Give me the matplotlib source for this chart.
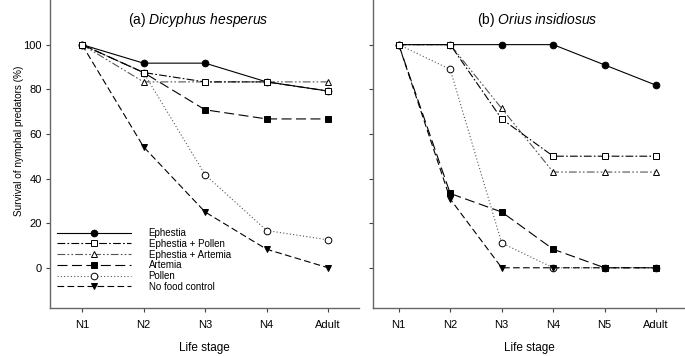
import numpy as np
import matplotlib
matplotlib.use("Agg")
import matplotlib.pyplot as plt

plt.rcParams['font.family'] = ['Liberation Sans', 'DejaVu Sans']
plt.rcParams['mathtext.fontset'] = 'custom'
plt.rcParams['mathtext.rm'] = 'Liberation Sans'
plt.rcParams['mathtext.it'] = 'Liberation Sans:italic'

# data
stages_a = ['N1', 'N2', 'N3', 'N4', 'Adult']
stages_b = ['N1', 'N2', 'N3', 'N4', 'N5', 'Adult']
series = ['Ephestia', 'Ephestia + Pollen', 'Ephestia + Artemia', 'Artemia', 'Pollen', 'No food control']

dicyphus = {
    'Ephestia': [100, 91.7, 91.7, 83.3, 79.2],
    'Ephestia + Pollen': [100, 87.5, 83.3, 83.3, 79.2],
    'Ephestia + Artemia': [100, 83.3, 83.3, 83.3, 83.3],
    'Artemia': [100, 87.5, 70.8, 66.7, 66.7],
    'Pollen': [100, 87.5, 41.7, 16.7, 12.5],
    'No food control': [100, 54.2, 25.0, 8.3, 0],
}
orius = {
    'Ephestia': [100, 100, 100, 100, 90.9, 81.8],
    'Ephestia + Pollen': [100, 100, 66.7, 50, 50, 50],
    'Ephestia + Artemia': [100, 100, 71.4, 42.9, 42.9, 42.9],
    'Artemia': [100, 33.3, 25.0, 8.3, 0, 0],
    'Pollen': [100, 88.9, 11.1, 0, 0, 0],
    'No food control': [100, 30.8, 0, 0, 0, 0],
}

styles = {
    'Ephestia': dict(ls='-', marker='o', mfc='black', color='black'),
    'Ephestia + Pollen': dict(ls=(0, (7, 2, 1.5, 2)), marker='s', mfc='white', color='black'),
    'Ephestia + Artemia': dict(ls=(0, (7, 2, 1.5, 2, 1.5, 2)), marker='^', mfc='white', color='#555555'),
    'Artemia': dict(ls=(0, (9, 4)), marker='s', mfc='black', color='black'),
    'Pollen': dict(ls=(0, (1, 2)), marker='o', mfc='white', color='#555555'),
    'No food control': dict(ls=(0, (6, 3)), marker='v', mfc='black', color='black'),
}
order = ['Pollen', 'No food control', 'Artemia', 'Ephestia + Artemia', 'Ephestia', 'Ephestia + Pollen']

fig = plt.figure(figsize=(6.85, 3.56), dpi=100)
ax1 = fig.add_axes([0.073, 0.135, 0.451, 0.865])
ax2 = fig.add_axes([0.5445, 0.135, 0.4555, 0.865])


def draw(ax, stages, data):
    x = np.arange(len(stages))
    for i, name in enumerate(series):
        st = styles[name]
        ax.plot(x, data[name], linestyle=st['ls'], marker=st['marker'], color=st['color'],
                mfc=st['mfc'], mec='black', ms=4.8, lw=0.8, mew=0.7,
                label=name, zorder=2 + order.index(name))
    ax.set_xticks(x)
    ax.set_xticklabels(stages)
    ax.set_ylim(-18, 120)
    ax.set_yticks([0, 20, 40, 60, 80, 100])
    for s in ['top', 'right']:
        ax.spines[s].set_visible(False)
    for s in ['left', 'bottom']:
        ax.spines[s].set_color('#666666')
        ax.spines[s].set_linewidth(1.0)
    ax.tick_params(direction='out', length=3, width=0.8, color='#444444', labelsize=8)
    ax.tick_params(axis='x', pad=6)
    ax.tick_params(axis='y', pad=3)
    ax.set_xlabel('Life stage', fontsize=8.5, labelpad=8)


draw(ax1, stages_a, dicyphus)
draw(ax2, stages_b, orius)
ax1.set_xlim(-0.52, 4.5)
ax2.set_xlim(-0.5, 5.56)
ax2.set_yticklabels([])
ax1.set_ylabel('Survival of nymphal predators (%)', fontsize=7.2)
ax1.yaxis.set_label_coords(-0.083, 0.542)

ax1.text(0.479, 0.935, r'(a) $\it{Dicyphus\ hesperus}$', transform=ax1.transAxes,
         ha='center', va='center', fontsize=10)
ax2.text(0.526, 0.935, r'(b) $\it{Orius\ insidiosus}$', transform=ax2.transAxes,
         ha='center', va='center', fontsize=10)

ax1.legend(loc='lower left', bbox_to_anchor=(0.0, 0.03), frameon=False, fontsize=7,
           handlelength=7.6, handletextpad=1.85, labelspacing=0.08, borderpad=0.2)

fig.savefig('out.png', dpi=100)
